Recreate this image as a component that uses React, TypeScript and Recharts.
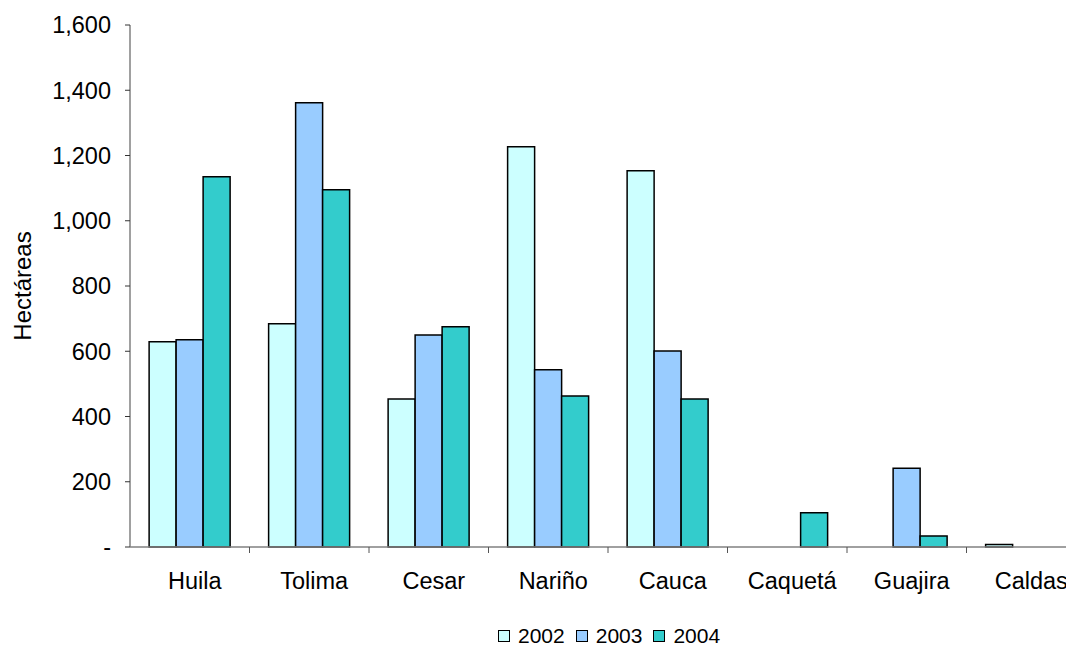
import { BarChart, Bar, XAxis, YAxis, Legend } from "recharts";

const departamentos = ["Huila", "Tolima", "Cesar", "Nariño", "Cauca", "Caquetá", "Guajira", "Caldas"];
const ha2002 = [629, 684, 454, 1227, 1153, 0, 0, 8];
const ha2003 = [635, 1362, 650, 543, 601, 0, 241, 0];
const ha2004 = [1135, 1095, 675, 463, 454, 105, 34, 0];
const yTicks = [0, 200, 400, 600, 800, 1000, 1200, 1400, 1600];

const series = [
  { key: "2002", fill: "#CCFFFF" },
  { key: "2003", fill: "#99CCFF" },
  { key: "2004", fill: "#33CCCC" },
];

const data = departamentos.map((name, i) => ({
  name,
  "2002": ha2002[i],
  "2003": ha2003[i],
  "2004": ha2004[i],
}));

const CHART_W = 1090;
const CHART_H = 643;
const Y_AXIS_W = 122;
const MARGIN = { top: 17, right: 12, left: 0, bottom: 0 };
const FONT = "'Liberation Sans', Arial, sans-serif";
const halfBand = (CHART_W - Y_AXIS_W - MARGIN.left - MARGIN.right) / departamentos.length / 2;

const fmtY = (v: number) => (v === 0 ? "-" : v.toLocaleString("en-US"));

const XTick = (props: any) => {
  const { x, y, payload, index } = props;
  return (
    <g>
      {index > 0 && (
        <line x1={x - halfBand} x2={x - halfBand} y1={y} y2={y + 6} stroke="#555" strokeWidth={1} />
      )}
      <text x={x + 5} y={y + 42} textAnchor="middle" fontSize={23.5} fill="#000" fontFamily={FONT}>
        {payload.value}
      </text>
    </g>
  );
};

const renderLegend = () => (
  <div
    style={{
      display: "flex",
      justifyContent: "flex-start",
      alignItems: "center",
      height: 30,
      fontFamily: FONT,
      fontSize: 21,
      color: "#000",
      paddingLeft: 490,
    }}
  >
    {series.map((s) => (
      <div key={s.key} style={{ display: "flex", alignItems: "center", marginRight: 11 }}>
        <span
          style={{
            width: 10,
            height: 10,
            background: s.fill,
            border: "1.5px solid #000",
            marginRight: 8,
            display: "inline-block",
          }}
        />
        <span>{s.key}</span>
      </div>
    ))}
  </div>
);

export default function App() {
  return (
    <div style={{ width: 1066, height: CHART_H, overflow: "hidden", background: "#fff" }}>
      <BarChart
        width={CHART_W}
        height={CHART_H}
        data={data}
        margin={MARGIN}
        barCategoryGap="16%"
        barGap={0}
      >
        <XAxis
          dataKey="name"
          height={74}
          tick={<XTick />}
          tickLine={false}
          tickSize={0}
          tickMargin={0}
          axisLine={{ stroke: "#808080", strokeWidth: 1.5 }}
          interval={0}
        />
        <YAxis
          width={Y_AXIS_W}
          domain={[0, 1600]}
          ticks={yTicks}
          tickFormatter={fmtY}
          tickSize={5}
          tickMargin={14}
          tick={{ fontSize: 23.5, fill: "#000", fontFamily: FONT }}
          tickLine={{ stroke: "#333" }}
          axisLine={{ stroke: "#808080", strokeWidth: 1.5 }}
          label={{
            value: "Hectáreas",
            angle: -90,
            position: "insideLeft",
            offset: 14,
            style: { textAnchor: "middle", fontSize: 24, fill: "#000", fontFamily: FONT },
          }}
        />
        <Legend verticalAlign="bottom" height={30} content={renderLegend} />
        {series.map((s) => (
          <Bar
            key={s.key}
            dataKey={s.key}
            fill={s.fill}
            stroke="#000"
            strokeWidth={1.5}
            isAnimationActive={false}
          />
        ))}
      </BarChart>
    </div>
  );
}
